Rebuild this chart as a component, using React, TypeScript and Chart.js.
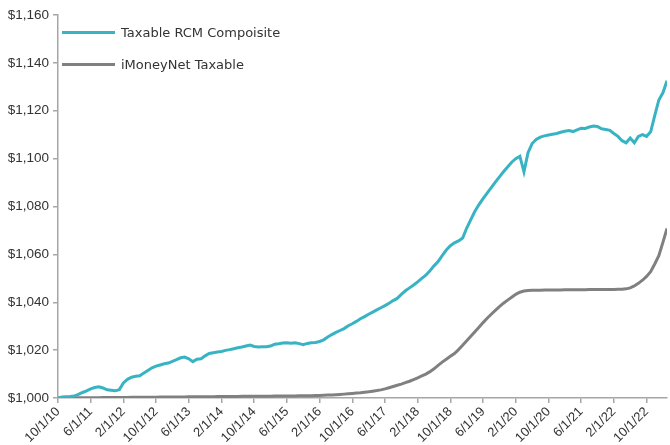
import React, { useEffect, useRef } from "react";
import { Chart, registerables } from "chart.js";

Chart.register(...registerables);

// Monthly labels 10/1/10 .. 3/1/23
const START_MONTH = 10;
const START_YEAR = 2010;
const MONTH_COUNT = 150;
const monthLabels: string[] = [];
for (let k = 0; k < MONTH_COUNT; k++) {
  const m = ((START_MONTH - 1 + k) % 12) + 1;
  const y = START_YEAR + Math.floor((START_MONTH - 1 + k) / 12);
  monthLabels.push(`${m}/1/${String(y % 100).padStart(2, "0")}`);
}

const tickIndices = [0, 8, 16, 24, 32, 40, 48, 56, 64, 72, 80, 88, 96, 104, 112, 120, 128, 136, 144];
const yTicks = [1000, 1020, 1040, 1060, 1080, 1100, 1120, 1140, 1160];

const seriesNames = ["Taxable RCM Compoisite", "iMoneyNet Taxable"];

const rcmValues = [
  1000.0, 1000.4, 1000.5, 1000.6, 1000.8, 1001.5, 1002.3, 1003.0, 1003.8, 1004.4,
  1004.7, 1004.2, 1003.4, 1003.2, 1003.0, 1003.5, 1006.3, 1007.8, 1008.7, 1009.1,
  1009.3, 1010.4, 1011.5, 1012.6, 1013.3, 1013.8, 1014.3, 1014.6, 1015.3, 1016.0,
  1016.8, 1017.1, 1016.4, 1015.2, 1016.2, 1016.4, 1017.6, 1018.6, 1018.9, 1019.2,
  1019.4, 1019.9, 1020.2, 1020.6, 1021.0, 1021.3, 1021.7, 1022.1, 1021.5, 1021.3,
  1021.4, 1021.4, 1021.7, 1022.5, 1022.7, 1023.0, 1023.1, 1022.9, 1023.1, 1022.7,
  1022.3, 1022.8, 1023.1, 1023.2, 1023.6, 1024.3, 1025.5, 1026.5, 1027.4, 1028.2,
  1029.0, 1030.2, 1031.0, 1032.0, 1033.1, 1034.0, 1035.0, 1035.9, 1036.8, 1037.7,
  1038.6, 1039.6, 1040.7, 1041.6, 1043.3, 1044.8, 1046.0, 1047.2, 1048.5, 1050.0,
  1051.3, 1053.2, 1055.2, 1057.0, 1059.5, 1061.8, 1063.6, 1064.8, 1065.6, 1066.8,
  1071.0, 1074.5, 1078.0, 1080.8, 1083.3, 1085.6, 1087.9, 1090.2, 1092.4, 1094.5,
  1096.5, 1098.5, 1100.0, 1101.0, 1094.5, 1102.5, 1106.3, 1108.0, 1109.0, 1109.5,
  1109.9, 1110.2, 1110.5, 1111.0, 1111.4, 1111.7, 1111.3, 1112.0, 1112.7, 1112.6,
  1113.2, 1113.6, 1113.4, 1112.5, 1112.2, 1111.8, 1110.5, 1109.3, 1107.5, 1106.6,
  1108.6, 1106.6, 1109.3, 1110.0, 1109.3, 1111.2, 1118.0, 1124.5, 1127.5, 1132.5,
];

const imoneyValues = [
  1000.0, 1000.02, 1000.03, 1000.05, 1000.06, 1000.08, 1000.09, 1000.11, 1000.12, 1000.14,
  1000.15, 1000.17, 1000.18, 1000.2, 1000.21, 1000.23, 1000.24, 1000.26, 1000.27, 1000.29,
  1000.3, 1000.32, 1000.33, 1000.35, 1000.36, 1000.38, 1000.39, 1000.41, 1000.42, 1000.44,
  1000.45, 1000.47, 1000.48, 1000.5, 1000.51, 1000.53, 1000.54, 1000.56, 1000.57, 1000.59,
  1000.6, 1000.62, 1000.63, 1000.65, 1000.66, 1000.68, 1000.69, 1000.71, 1000.72, 1000.74,
  1000.75, 1000.77, 1000.78, 1000.8, 1000.81, 1000.83, 1000.84, 1000.86, 1000.87, 1000.89,
  1000.9, 1000.94, 1000.98, 1001.03, 1001.09, 1001.15, 1001.22, 1001.3, 1001.4, 1001.5,
  1001.62, 1001.75, 1001.9, 1002.05, 1002.2, 1002.4, 1002.6, 1002.85, 1003.1, 1003.4,
  1003.8, 1004.3, 1004.8, 1005.3, 1005.8, 1006.4, 1007.0, 1007.7, 1008.4, 1009.2,
  1010.0, 1011.0, 1012.2, 1013.6, 1015.0, 1016.2, 1017.4, 1018.6, 1020.2, 1022.0,
  1023.9, 1025.8, 1027.7, 1029.6, 1031.5, 1033.3, 1035.0, 1036.6, 1038.2, 1039.6,
  1040.9, 1042.1, 1043.3, 1044.2, 1044.7, 1044.9, 1045.0, 1045.05, 1045.05, 1045.1,
  1045.1, 1045.1, 1045.15, 1045.15, 1045.2, 1045.2, 1045.2, 1045.25, 1045.25, 1045.25,
  1045.3, 1045.3, 1045.3, 1045.3, 1045.35, 1045.35, 1045.35, 1045.4, 1045.4, 1045.6,
  1046.0, 1046.8, 1047.9, 1049.2, 1050.8, 1052.8, 1056.0, 1059.5, 1065.0, 1070.8,
];

const TEAL = "#38B3C4";
const GREY = "#808080";
const AXIS = "#A6A6A6";
const TEXT = "#333333";

const insideLegend = {
  id: "insideLegend",
  afterDraw(chart: any) {
    const ctx = chart.ctx;
    const left = chart.chartArea.left;
    const top = chart.chartArea.top;
    chart.data.datasets.forEach((ds: any, k: number) => {
      const y = top + 17.5 + k * 32;
      ctx.save();
      ctx.strokeStyle = ds.borderColor;
      ctx.lineWidth = 3;
      ctx.beginPath();
      ctx.moveTo(left + 4, y);
      ctx.lineTo(left + 57, y);
      ctx.stroke();
      ctx.fillStyle = TEXT;
      ctx.font = '13px "DejaVu Sans"';
      ctx.textBaseline = "middle";
      ctx.textAlign = "left";
      ctx.fillText(ds.label, left + 63, y + 1);
      ctx.restore();
    });
  },
};

export default function App() {
  const canvasRef = useRef<HTMLCanvasElement | null>(null);

  useEffect(() => {
    document.body.style.margin = "0";
    const canvas = canvasRef.current;
    if (!canvas) return;
    const chart = new Chart(canvas, {
      type: "line",
      data: {
        datasets: [
          {
            label: seriesNames[0],
            data: rcmValues.map((v, i) => ({ x: i, y: v })),
            borderColor: TEAL,
            backgroundColor: TEAL,
            borderWidth: 3,
            pointRadius: 0,
            tension: 0,
          },
          {
            label: seriesNames[1],
            data: imoneyValues.map((v, i) => ({ x: i, y: v })),
            borderColor: GREY,
            backgroundColor: GREY,
            borderWidth: 3,
            pointRadius: 0,
            tension: 0,
          },
        ],
      },
      options: {
        animation: false,
        responsive: false,
        maintainAspectRatio: false,
        layout: { padding: { top: 15, right: 3, left: 0, bottom: 0 } },
        plugins: {
          legend: { display: false },
          tooltip: { enabled: false },
        },
        scales: {
          x: {
            type: "linear",
            min: 0,
            max: MONTH_COUNT - 1,
            afterBuildTicks: (scale: any) => {
              scale.ticks = tickIndices.map((v) => ({ value: v }));
            },
            afterFit: (scale: any) => {
              scale.height = 47;
            },
            border: { display: true, color: AXIS, width: 1.5 },
            grid: {
              display: true,
              drawOnChartArea: false,
              drawTicks: true,
              tickLength: 5,
              color: AXIS,
              lineWidth: 1.5,
            },
            ticks: {
              autoSkip: false,
              minRotation: 45,
              maxRotation: 45,
              padding: 1,
              color: TEXT,
              font: { family: '"Liberation Sans", Arial', size: 13 },
              callback: (value: any) => monthLabels[Math.round(Number(value))],
            },
          },
          y: {
            min: 1000,
            max: 1160,
            afterBuildTicks: (scale: any) => {
              scale.ticks = yTicks.map((v) => ({ value: v }));
            },
            afterFit: (scale: any) => {
              scale.width = 58;
            },
            border: { display: true, color: AXIS, width: 1.5 },
            grid: {
              display: true,
              drawOnChartArea: false,
              drawTicks: true,
              tickLength: 5,
              color: AXIS,
              lineWidth: 1.5,
            },
            ticks: {
              padding: 4,
              color: TEXT,
              font: { family: '"Liberation Sans", Arial', size: 13.5 },
              callback: (value: any) => "$" + Number(value).toLocaleString("en-US"),
            },
          },
        },
      },
      plugins: [insideLegend],
    });
    return () => chart.destroy();
  }, []);

  return (
    <div style={{ position: "fixed", left: 0, top: 0, width: 670, height: 445, background: "#fff" }}>
      <canvas ref={canvasRef} width={670} height={445} style={{ width: 670, height: 445, display: "block" }} />
    </div>
  );
}
